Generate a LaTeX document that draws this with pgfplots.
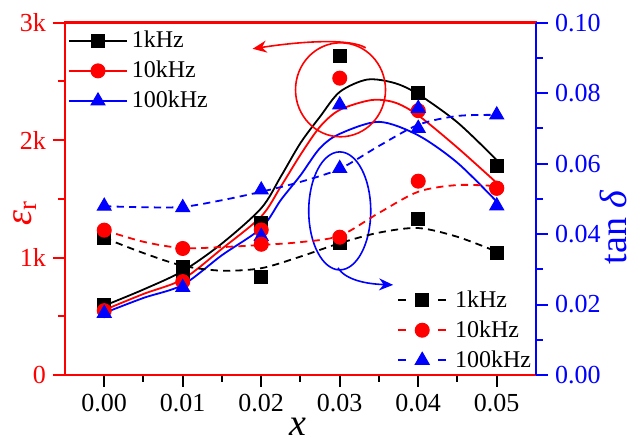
\documentclass[border=0pt]{standalone}
\usepackage{fontspec}
\setmainfont{Liberation Serif}
\usepackage{pgfplots}
\pgfplotsset{compat=1.18}
\usetikzlibrary{arrows.meta}

\begin{document}
\begin{tikzpicture}
% permittivity (left axis)
\begin{axis}[
    name=main,
    scale only axis, width=235.5pt, height=176.2pt,
    xmin=-0.005, xmax=0.055, ymin=0, ymax=3000,
    xtick={0,0.01,0.02,0.03,0.04,0.05},
    xticklabels={0.00,0.01,0.02,0.03,0.04,0.05},
    ytick={0,1000,2000,3000}, yticklabels={0,1k,2k,3k},
    scaled x ticks=false, scaled y ticks=false,
    minor x tick num=1, minor y tick num=1,
    xtick pos=bottom, ytick pos=left,
    tick align=outside,
    major tick length=6pt, minor tick length=3.5pt,
    axis line style={line width=1.2pt},
    x axis line style={black}, y axis line style={red},
    xtick style={black, line width=1pt}, ytick style={red, line width=1pt},
    ticklabel style={font=\fontsize{13}{13}\selectfont},
    yticklabel style={red},
    xlabel={\textit{x}},
    ylabel={{\itshape ε}\textsubscript{r}},
    label style={font=\fontsize{19}{19}\selectfont},
    xlabel style={at={(axis description cs:0.495,-0.148)}, anchor=center, inner sep=0pt},
    ylabel style={red, at={(axis description cs:-0.085,0.46)}, anchor=center, inner sep=0pt},
    legend cell align=left,
    legend style={draw=none, fill=none, at={(axis description cs:-0.007,1.0)},
        anchor=north west, font=\fontsize{12}{12}\selectfont, row sep=1.2pt,
        nodes={font=\fontsize{12}{12}\selectfont}},
    legend image code/.code={
        \draw[mark repeat=2,mark phase=2,#1] plot coordinates {(0pt,0pt) (14.5pt,0pt) (29pt,0pt)};},
]
\addlegendimage{black, line width=0.9pt, mark=square*, mark size=3.25pt, mark options={line width=0.5pt}}
\addlegendimage{red, line width=0.9pt, mark=*, mark size=3.5pt, mark options={line width=0.5pt}}
\addlegendimage{blue, line width=0.9pt, mark=triangle*, mark size=4pt, mark options={line width=0.5pt}}
\legend{1kHz,10kHz,100kHz}

% fitted curves
\addplot[forget plot, black, line width=0.9pt, smooth, no marks] coordinates {
    (0,590) (0.005,728) (0.01,885) (0.015,1120) (0.02,1420) (0.0225,1690)
    (0.025,1975) (0.0275,2200) (0.03,2410) (0.0335,2515) (0.037,2485)
    (0.04,2390) (0.045,2150) (0.05,1830)
};
\addplot[forget plot, red, line width=0.9pt, smooth, no marks] coordinates {
    (0,553) (0.005,690) (0.01,815) (0.015,1075) (0.02,1350) (0.0225,1605)
    (0.025,1875) (0.0275,2115) (0.03,2257) (0.034,2340) (0.037,2320)
    (0.04,2210) (0.045,1935) (0.05,1635)
};
\addplot[forget plot, blue, line width=0.9pt, smooth, no marks] coordinates {
    (0,528) (0.005,656) (0.01,767) (0.015,1020) (0.02,1250) (0.0225,1490)
    (0.025,1700) (0.0275,1933) (0.03,2053) (0.035,2155) (0.04,2040)
    (0.045,1806) (0.05,1476)
};

% measured points
\addplot[forget plot, only marks, black, mark=square*, mark size=3.25pt, mark options={line width=0.5pt}] coordinates {
    (0,596) (0.01,880) (0.02,1292) (0.03,2717) (0.04,2400) (0.05,1780)
};
\addplot[forget plot, only marks, red, mark=*, mark size=3.5pt, mark options={line width=0.5pt}] coordinates {
    (0,548) (0.01,795) (0.02,1235) (0.03,2527) (0.04,2250) (0.05,1590)
};
\addplot[forget plot, only marks, blue, mark=triangle*, mark size=4pt, mark options={line width=0.5pt}] coordinates {
    (0,525) (0.01,745) (0.02,1180) (0.03,2300) (0.04,2270) (0.05,1440)
};

% hand-drawn style annotations
\draw[red, line width=0.8pt] (axis cs:0.0301,2428) ellipse [x radius=22.5pt, y radius=23.5pt];
\draw[red, line width=0.8pt, -{Stealth[length=7pt,width=6pt]}]
    (axis cs:0.0333,2785) .. controls (axis cs:0.0315,2860) and (axis cs:0.026,2850) .. (axis cs:0.0189,2777);
\draw[blue, line width=0.8pt] (axis cs:0.0300,1397) ellipse [x radius=15.5pt, y radius=29.5pt];
\draw[blue, line width=0.8pt, -{Stealth[length=7pt,width=6pt]}]
    (axis cs:0.02977,911) .. controls (axis cs:0.03078,809) and (axis cs:0.03334,775) .. (axis cs:0.0368,767);
\end{axis}

% loss tangent (right axis)
\begin{axis}[
    scale only axis, width=235.5pt, height=176.2pt,
    xmin=-0.005, xmax=0.055, ymin=0, ymax=0.1,
    axis x line=none, axis y line*=right,
    ytick={0,0.02,0.04,0.06,0.08,0.1},
    yticklabels={0.00,0.02,0.04,0.06,0.08,0.10},
    minor y tick num=1, scaled y ticks=false,
    tick align=outside, major tick length=6pt, minor tick length=3.5pt,
    y axis line style={blue, line width=1.2pt},
    ytick style={blue, line width=1pt},
    yticklabel style={blue, font=\fontsize{13}{13}\selectfont},
    ylabel={tan \textit{δ}},
    ylabel style={blue, font=\fontsize{19}{19}\selectfont, at={(axis description cs:1.1635,0.42)}, anchor=center, inner sep=0pt},
    legend cell align=left,
    legend style={draw=none, fill=none, at={(axis description cs:0.692,0.264)},
        anchor=north west, font=\fontsize{12}{12}\selectfont, row sep=1.2pt,
        nodes={font=\fontsize{12}{12}\selectfont}},
    legend image code/.code={
        \draw[#1, solid] (0pt,0pt) -- (4pt,0pt);
        \draw[#1, solid] (20pt,0pt) -- (24pt,0pt);
        \draw[#1, only marks] plot coordinates {(12pt,0pt)};
        \path (26pt,0pt);},
]
\addlegendimage{black, line width=0.9pt, mark=square*, mark size=3.25pt, mark options={solid, line width=0.5pt}}
\addlegendimage{red, line width=0.9pt, mark=*, mark size=3.5pt, mark options={solid, line width=0.5pt}}
\addlegendimage{blue, line width=0.9pt, mark=triangle*, mark size=4pt, mark options={solid, line width=0.5pt}}
\legend{1kHz,10kHz,100kHz}

\addplot[forget plot, black, line width=0.9pt, dash pattern=on 3.6pt off 2.6pt, smooth, no marks] coordinates {
    (0,0.0389) (0.005,0.0346) (0.01,0.0310) (0.015,0.0296) (0.02,0.0303) (0.025,0.0336)
    (0.03,0.0374) (0.035,0.0404) (0.04,0.0417) (0.045,0.0392) (0.05,0.0350)
};
\addplot[forget plot, red, line width=0.9pt, dash pattern=on 3.6pt off 2.6pt, smooth, no marks] coordinates {
    (0,0.0411) (0.005,0.0378) (0.01,0.0360) (0.015,0.0363) (0.02,0.0369) (0.025,0.0377)
    (0.03,0.0395) (0.035,0.0460) (0.04,0.0520) (0.045,0.0539) (0.05,0.0536)
};
\addplot[forget plot, blue, line width=0.9pt, dash pattern=on 3.6pt off 2.6pt, smooth, no marks] coordinates {
    (0,0.0479) (0.005,0.0476) (0.01,0.0477) (0.015,0.0496) (0.02,0.0520) (0.025,0.0548)
    (0.03,0.0585) (0.035,0.0650) (0.04,0.0710) (0.045,0.0735) (0.05,0.0738)
};

\addplot[forget plot, only marks, black, mark=square*, mark size=3.25pt, mark options={line width=0.5pt}] coordinates {
    (0,0.0388) (0.01,0.0307) (0.02,0.0279) (0.03,0.0374) (0.04,0.0443) (0.05,0.0345)
};
\addplot[forget plot, only marks, red, mark=*, mark size=3.5pt, mark options={line width=0.5pt}] coordinates {
    (0,0.0411) (0.01,0.0359) (0.02,0.0371) (0.03,0.0391) (0.04,0.0550) (0.05,0.0530)
};
\addplot[forget plot, only marks, blue, mark=triangle*, mark size=4pt, mark options={line width=0.5pt}] coordinates {
    (0,0.0479) (0.01,0.0475) (0.02,0.0525) (0.03,0.0586) (0.04,0.0700) (0.05,0.0738)
};
\end{axis}

\pgfresetboundingbox
\path (main.south west) ++(-32.5pt,-33.5pt) rectangle ++(316pt,221pt);
\end{tikzpicture}
\end{document}
